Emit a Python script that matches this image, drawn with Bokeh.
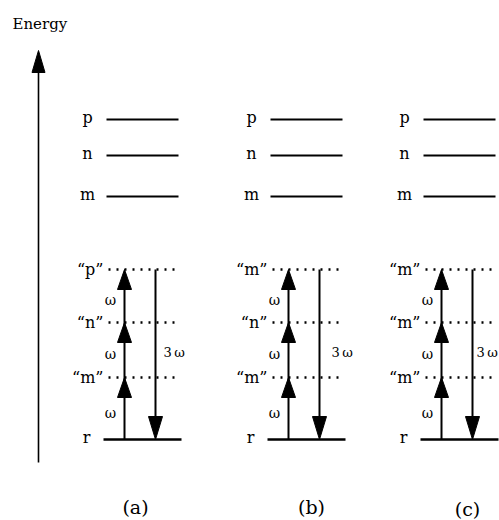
from bokeh.plotting import figure
from bokeh.models import Range1d
from bokeh.core.properties import value
from bokeh.embed import file_html
from bokeh.resources import INLINE

# Energy values (vertical units, ground state r at the bottom)
ground_level = 81
virtual_levels = [143, 198, 251]          # 1, 2 and 3 photon virtual states
real_levels = [324, 365, 401]             # real states m, n, p
real_names = ["m", "n", "p"]
virtual_names = [
    ["\u201cm\u201d", "\u201cn\u201d", "\u201cp\u201d"],
    ["\u201cm\u201d", "\u201cn\u201d", "\u201cm\u201d"],
    ["\u201cm\u201d", "\u201cm\u201d", "\u201cm\u201d"],
]
panel_captions = ["(a)", "(b)", "(c)"]
photon_label = "\u03c9"
emission_label = "3\u2009\u03c9"
axis_label = "Energy"

# Layout (pixel-scale coordinates)
W, H = 499, 520
panel_x = [106, 270, 423]
caption_x = [135, 311, 467]
caption_y = [14, 14, 12]
emission_dx = [57, 61, 53]
axis_x, axis_bottom, axis_top = 38, 58, 470
FONT = value("DejaVu Serif")

p = figure(width=W, height=H, output_backend="svg", toolbar_location=None,
           x_range=Range1d(0, W), y_range=Range1d(0, H), min_border=0)
p.axis.visible = False
p.grid.visible = False
p.outline_line_color = None
p.background_fill_color = "white"
p.border_fill_color = "white"

# Energy axis with its arrowhead
p.segment(x0=[axis_x], y0=[axis_bottom], x1=[axis_x], y1=[axis_top - 10],
          line_color="black", line_width=1.6)
p.patches(xs=[[axis_x - 6.5, axis_x, axis_x + 6.5]],
          ys=[[axis_top - 22, axis_top, axis_top - 22]],
          fill_color="black", line_color="black", line_width=1)
p.text(x=[12], y=[497], text=[axis_label], text_font=FONT, text_font_size="15px",
       text_baseline="middle", text_align="left", text_color="black")

head_xs, head_ys = [], []
for i, x0 in enumerate(panel_x):
    # real states
    n_real = len(real_levels)
    p.segment(x0=[x0] * n_real, y0=real_levels, x1=[x0 + 72] * n_real, y1=real_levels,
              line_color="black", line_width=2.2)
    p.text(x=[x0 - 19] * n_real, y=[v + 2 for v in real_levels], text=real_names,
           text_font=FONT, text_font_size="16px", text_align="center",
           text_baseline="middle", text_color="black")

    # virtual states (dotted)
    n_virt = len(virtual_levels)
    p.segment(x0=[x0 + 2] * n_virt, y0=virtual_levels, x1=[x0 + 74] * n_virt,
              y1=virtual_levels, line_color="black", line_width=2.5,
              line_dash="2 6")
    p.text(x=[x0 - 3] * n_virt, y=virtual_levels, text=virtual_names[i],
           text_font=FONT, text_font_size="16px", text_align="right",
           text_baseline="middle", text_color="black")

    # ground state r
    p.segment(x0=[x0 - 3], y0=[ground_level], x1=[x0 + 75], y1=[ground_level],
              line_color="black", line_width=2.6)
    p.text(x=[x0 - 20], y=[ground_level + 2], text=["r"], text_font=FONT,
           text_font_size="16px", text_align="center", text_baseline="middle",
           text_color="black")

    # absorption: three photons climbing the virtual ladder
    ux = x0 + 18
    p.segment(x0=[ux], y0=[ground_level], x1=[ux], y1=[virtual_levels[-1] - 4],
              line_color="black", line_width=2)
    steps = [ground_level] + virtual_levels
    for lo, hi in zip(steps[:-1], steps[1:]):
        head_xs.append([ux - 7, ux, ux + 7])
        head_ys.append([hi - 20, hi, hi - 20])
        p.text(x=[x0 + 4], y=[(lo + hi) / 2 - 4], text=[photon_label], text_font=FONT,
               text_font_size="14px", text_align="center", text_baseline="middle",
               text_color="black")

    # emission of the third harmonic
    dx = x0 + 49
    top = virtual_levels[-1]
    p.segment(x0=[dx], y0=[top], x1=[dx], y1=[ground_level + 10],
              line_color="black", line_width=2)
    head_xs.append([dx - 7, dx, dx + 7])
    head_ys.append([ground_level + 23, ground_level, ground_level + 23])
    p.text(x=[x0 + emission_dx[i]], y=[(top + ground_level) / 2 + 2],
           text=[emission_label], text_font=FONT, text_font_size="13px",
           text_align="left", text_baseline="middle", text_color="black")

    # panel caption
    p.text(x=[caption_x[i]], y=[caption_y[i]], text=[panel_captions[i]], text_font=FONT,
           text_font_size="19px", text_align="center", text_baseline="middle",
           text_color="black")

p.patches(xs=head_xs, ys=head_ys, fill_color="black", line_color="black",
          line_width=1)

open("out.html", "w").write(file_html(p, INLINE))
